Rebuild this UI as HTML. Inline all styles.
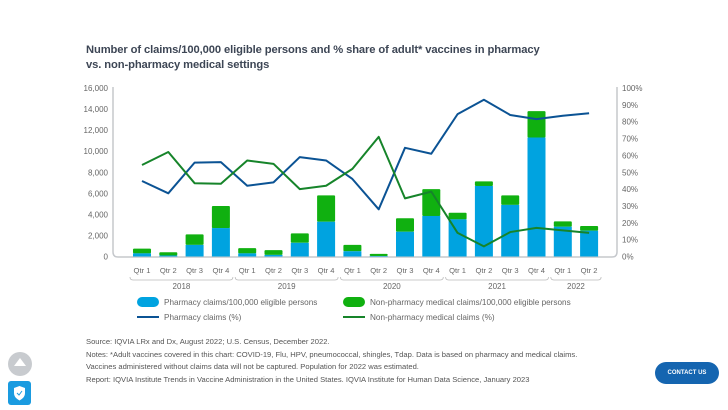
<!DOCTYPE html>
<html><head><meta charset="utf-8"><style>
body{margin:0;width:728px;height:409px;background:#fff;overflow:hidden;font-family:"Liberation Sans",sans-serif;position:relative}
.t{position:absolute;left:86px;top:43px;font-size:11.2px;font-weight:bold;color:#3d4655;line-height:14.5px;letter-spacing:-0.1px}
.n{position:absolute;left:86px;top:336px;font-size:7.6px;color:#555;line-height:12.7px}
.btn{position:absolute;left:655px;top:362px;width:64px;height:22px;border-radius:11px;background:#1565b0;color:#fff;font-size:6px;font-weight:bold;text-align:center;line-height:22px}
</style></head><body>
<div class="t">Number of claims/100,000 eligible persons and % share of adult* vaccines in pharmacy<br>vs. non-pharmacy medical settings</div>
<svg id="s" width="728" height="409" style="position:absolute;left:0;top:0" font-family="Liberation Sans, sans-serif"></svg>
<div class="n">Source: IQVIA LRx and Dx, August 2022; U.S. Census, December 2022.<br>Notes: *Adult vaccines covered in this chart: COVID-19, Flu, HPV, pneumococcal, shingles, Tdap. Data is based on pharmacy and medical claims.<br>Vaccines administered without claims data will not be captured. Population for 2022 was estimated.<br>Report: IQVIA Institute Trends in Vaccine Administration in the United States. IQVIA Institute for Human Data Science, January 2023</div>
<div class="btn">CONTACT US</div>
<div style="position:absolute;left:8px;top:352px;width:24px;height:24px;border-radius:12px;background:#c8cbcf"><div style="position:absolute;left:6px;top:6px;border-left:6px solid transparent;border-right:6px solid transparent;border-bottom:8px solid #fff"></div></div>
<div style="position:absolute;left:8px;top:381px;width:23px;height:24px;border-radius:3px;background:#1a9be0"><svg width="23" height="24"><path d="M11.5 5 L17 7 V12 C17 16 14 18 11.5 19.5 C9 18 6 16 6 12 V7 Z" fill="#fff"/><path d="M9 12 L11 14 L14 10" stroke="#1a9be0" fill="none" stroke-width="1"/></svg></div>
<script>
var s=document.getElementById('s'),h='';
function Y(v){return 256.5-v*0.01053}
function P(p){return 256.5-p*1.685}
function X(i){return 142+26.3*i}
var tot=[750,400,2100,4800,800,600,2200,5800,1100,250,3630,6400,4160,7140,5800,13800,3340,2900];
var bl=[300,100,1100,2700,300,150,1300,3300,500,50,2350,3850,3530,6700,4900,11300,2830,2450];
var ph=[44.8,37.5,55.7,56,42,44,59,57,46,28,64.5,61,84.5,93,84,81.5,83.5,85];
var gr=[54.3,62,43.5,43.2,57,55,40,42,52,71,34.5,38.5,14,6,14.5,17,15.5,14];
for(var k=0;k<=16;k+=2){var y=Y(k*1000);h+='<text x="108" y="'+(y+3)+'" font-size="8" fill="#666" text-anchor="end">'+(k?k+',000':'0')+'</text>';}
for(var p=0;p<=100;p+=10){h+='<text x="622" y="'+(P(p)+3)+'" font-size="8" fill="#666">'+p+'%</text>';}
h+='<path d="M113 87 V252 Q113 257 118 257 H612 Q617 257 617 252 V87" fill="none" stroke="#c5c8cc" stroke-width="1.5"/>';
for(var i=0;i<18;i++){var x=X(i)-9;
h+='<rect x="'+x+'" y="'+Y(tot[i])+'" width="18" height="'+(Y(bl[i])-Y(tot[i]))+'" fill="#10b010" rx="1"/>';
h+='<rect x="'+x+'" y="'+Y(bl[i])+'" width="18" height="'+(256.5-Y(bl[i]))+'" fill="#00a3e0"/>';
h+='<text x="'+X(i)+'" y="273" font-size="7.6" fill="#666" text-anchor="middle">Qtr '+(i%4+1)+'</text>';}
function line(a,c){var d='';for(var i=0;i<a.length;i++)d+=(i?'L':'M')+X(i)+' '+P(a[i]);return '<path d="'+d+'" fill="none" stroke="'+c+'" stroke-width="2" stroke-linejoin="round"/>';}
h+=line(ph,'#0b5394')+line(gr,'#16842a');
var yrs=['2018','2019','2020','2021','2022'];
for(var j=0;j<5;j++){var a=X(j*4)-12,b=(j<4?X(j*4+3):X(17))+12;
h+='<path d="M'+a+' 277 q0 3 3 3 H'+(b-3)+' q3 0 3 -3" fill="none" stroke="#bbb" stroke-width="0.8"/>';
h+='<text x="'+((a+b)/2)+'" y="289" font-size="8" fill="#666" text-anchor="middle">'+yrs[j]+'</text>';}
h+='<rect x="137" y="297" width="22" height="10" rx="5" fill="#00a3e0"/><text x="164" y="305" font-size="8.2" fill="#666">Pharmacy claims/100,000 eligible persons</text>';
h+='<rect x="343" y="297" width="22" height="10" rx="5" fill="#10b010"/><text x="370" y="305" font-size="8.2" fill="#666">Non-pharmacy medical claims/100,000 eligible persons</text>';
h+='<rect x="137" y="316" width="22" height="2" fill="#0b5394"/><text x="164" y="320" font-size="8.2" fill="#666">Pharmacy claims (%)</text>';
h+='<rect x="343" y="316" width="22" height="2" fill="#16842a"/><text x="370" y="320" font-size="8.2" fill="#666">Non-pharmacy medical claims (%)</text>';
s.innerHTML=h;
</script>
</body></html>
